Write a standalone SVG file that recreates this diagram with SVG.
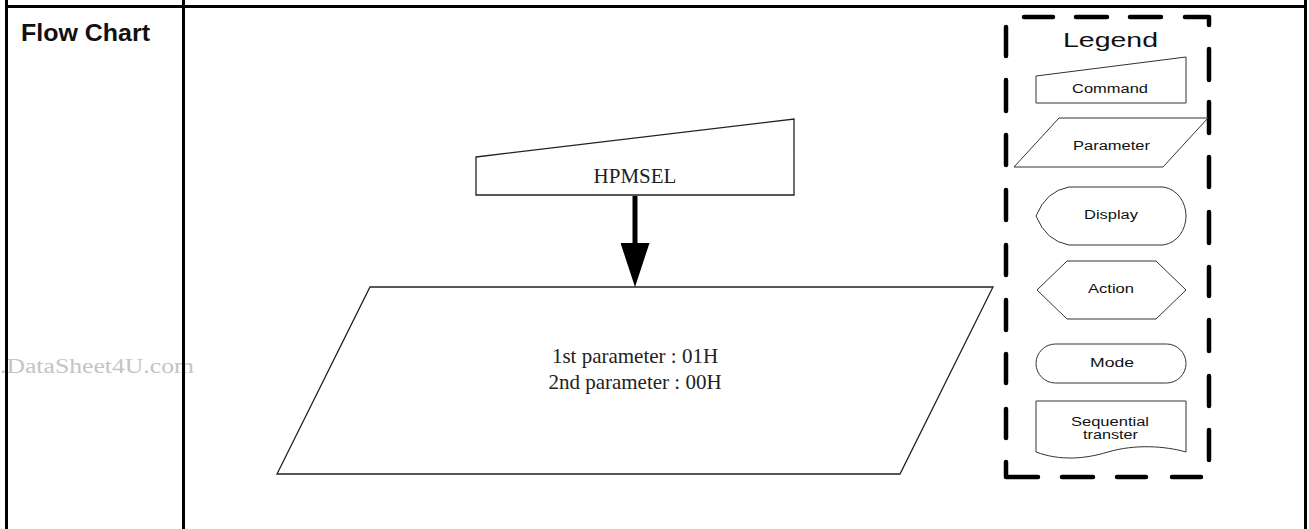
<svg xmlns="http://www.w3.org/2000/svg" width="1309" height="529" viewBox="0 0 1309 529">
<style>
.frame{stroke:#000;stroke-width:3;fill:none}
.leg{fill:#fff;stroke:#333;stroke-width:1}
.main{fill:#fff;stroke:#222;stroke-width:1.3}
.lt{font-family:"Liberation Sans",Arial,sans-serif;font-size:12px;fill:#111;text-anchor:middle}
.st{font-family:"Liberation Serif","Times New Roman",serif;font-size:21px;fill:#222;text-anchor:middle}
</style>
<defs>
<marker id="ah" viewBox="0 0 29 44" refX="14.5" refY="0" markerWidth="29" markerHeight="44" markerUnits="userSpaceOnUse" orient="0">
<path d="M0,0 L29,0 L14.5,44 Z" fill="#000"/>
</marker>
</defs>
<text x="0" y="373" font-family="Liberation Serif,serif" font-size="20" fill="#c4c4c4" textLength="194" lengthAdjust="spacingAndGlyphs">.DataSheet4U.com</text>
<g id="frame">
<line class="frame" x1="6.5" y1="0" x2="6.5" y2="529"/>
<line class="frame" x1="183.5" y1="0" x2="183.5" y2="529"/>
<line class="frame" x1="1305.5" y1="0" x2="1305.5" y2="529"/>
<line class="frame" x1="5" y1="6.5" x2="1307" y2="6.5"/>
<text x="21" y="41" font-family="Liberation Sans,Arial,sans-serif" font-weight="bold" font-size="23" fill="#111" textLength="129" lengthAdjust="spacingAndGlyphs">Flow Chart</text>
</g>
<g id="legend">
<path d="M1024,17 H1053 M1076,17 H1107 M1130,17 H1161 M1185,17 H1209 V25 M1209,49 V80 M1209,102 V133 M1209,157 V187 M1209,212 V243 M1209,267 V296 M1209,320 V351 M1209,376 V406 M1209,430 V460 M1201,477 H1172 M1146,477 H1117 M1093,477 H1062 M1038,477 H1006 V462 M1006,438 V409 M1006,383 V354 M1006,330 V300 M1006,275 V245 M1006,220 V190 M1006,165 V135 M1006,111 V80 M1006,56 V27" fill="none" stroke="#000" stroke-width="4.5" stroke-linecap="round" stroke-linejoin="round"/>
<text x="1110.5" y="47" font-family="Liberation Sans,Arial,sans-serif" font-size="20" fill="#111" text-anchor="middle" textLength="95" lengthAdjust="spacingAndGlyphs">Legend</text>
</g>
<g id="leg-command">
<path class="leg" d="M1036,76 L1186,57 V103 H1036 Z"/>
<text class="lt" x="1110" y="93" textLength="76" lengthAdjust="spacingAndGlyphs">Command</text>
</g>
<g id="leg-parameter">
<path class="leg" d="M1059,118 H1208 L1163,167 H1014 Z"/>
<text class="lt" x="1111.5" y="150" textLength="77" lengthAdjust="spacingAndGlyphs">Parameter</text>
</g>
<g id="leg-display">
<path class="leg" d="M1069,187 H1163 C1178,189 1186,203 1186,216 C1186,229 1178,243 1163,245 H1069 Q1046,241 1036,216 Q1046,191 1069,187 Z"/>
<text class="lt" x="1111" y="219" textLength="54" lengthAdjust="spacingAndGlyphs">Display</text>
</g>
<g id="leg-action">
<path class="leg" d="M1037,290 L1067,261 H1156 L1186,290 L1156,319 H1067 Z"/>
<text class="lt" x="1111" y="293" textLength="46" lengthAdjust="spacingAndGlyphs">Action</text>
</g>
<g id="leg-mode">
<rect class="leg" x="1036" y="344" width="150" height="39" rx="19.5"/>
<text class="lt" x="1112" y="367" textLength="44" lengthAdjust="spacingAndGlyphs">Mode</text>
</g>
<g id="leg-seq">
<path class="leg" d="M1036,401 H1186 V452 C1165,446 1135,444 1108,452 C1085,459 1060,461 1036,452 Z"/>
<text class="lt" x="1110" y="426" textLength="78" lengthAdjust="spacingAndGlyphs">Sequential</text>
<text class="lt" x="1110.5" y="439" textLength="55" lengthAdjust="spacingAndGlyphs">transter</text>
</g>
<g id="node-hpmsel">
<path class="main" d="M476,157 L794,119 V195 H476 Z"/>
<text class="st" x="635" y="183">HPMSEL</text>
</g>
<g id="node-param">
<path class="main" d="M370,287 H993 L900,474 H277 Z"/>
<text class="st" x="635" y="363">1st parameter : 01H</text>
<text class="st" x="635" y="389">2nd parameter : 00H</text>
</g>
<g id="connectors">
<line x1="635" y1="196" x2="635" y2="243" stroke="#000" stroke-width="5" marker-end="url(#ah)"/>
</g>
</svg>
